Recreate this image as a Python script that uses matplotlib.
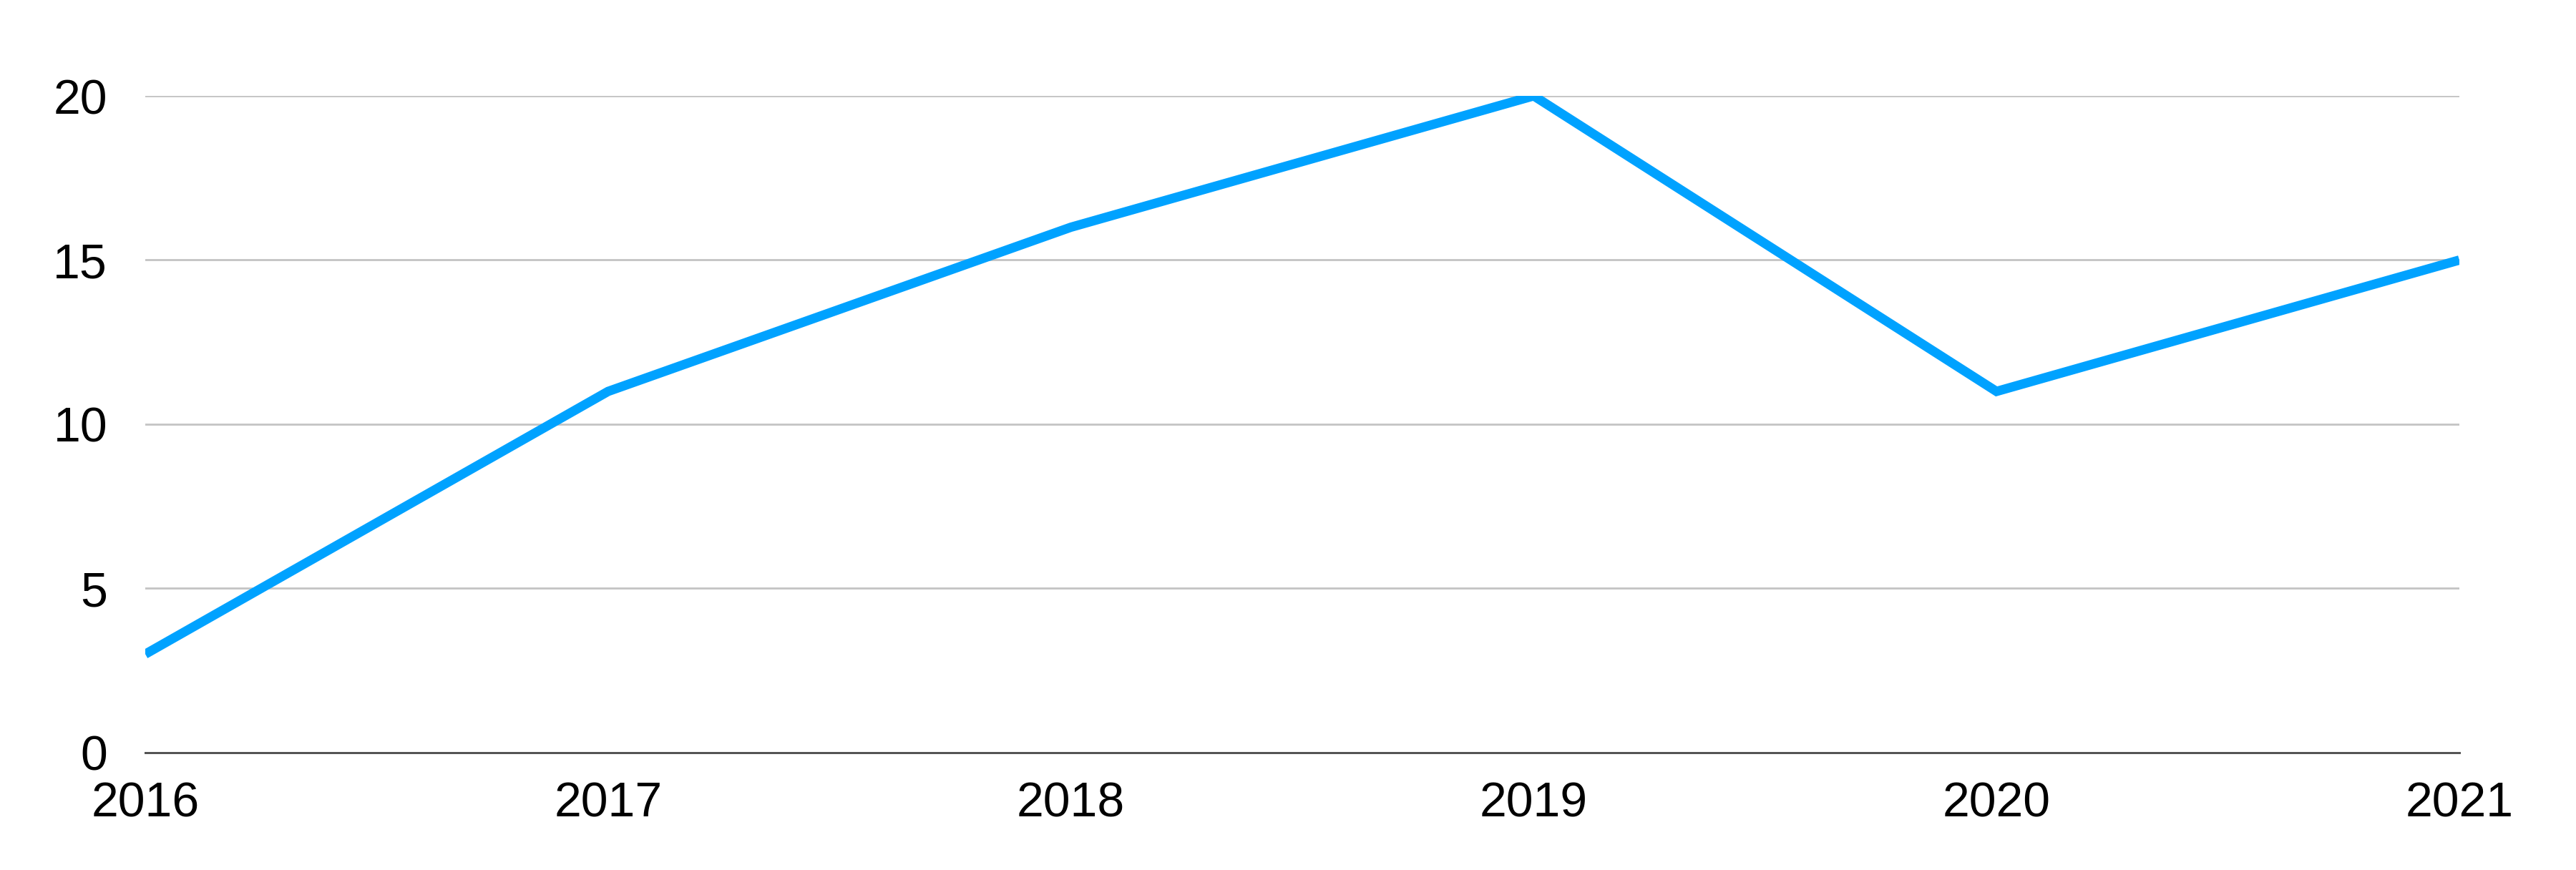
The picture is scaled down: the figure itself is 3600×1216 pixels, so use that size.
import matplotlib
matplotlib.use("Agg")
import matplotlib.pyplot as plt

# dados
anos = [2016, 2017, 2018, 2019, 2020, 2021]
valores = [3, 11, 16, 20, 11, 15]
yticks = [0, 5, 10, 15, 20]

plt.rcParams['font.family'] = ['Liberation Sans', 'DejaVu Sans']

# dpi 72: 1 pt = 1 px
fig = plt.figure(figsize=(3600 / 72, 1216 / 72), dpi=72)
ax = fig.add_axes([0.0564, 0.1349, 0.8983, 0.7549])

ax.plot(anos, valores, color='#00A2FF', linewidth=13,
        solid_capstyle='butt', solid_joinstyle='miter', zorder=3)

ax.set_xlim(anos[0], anos[-1])
ax.set_ylim(0, 20)
ax.set_xticks(anos)
ax.set_yticks(yticks)

ax.grid(axis='y', color='#c4c4c4', linewidth=2.8)
ax.set_axisbelow(True)

for s in ['top', 'right', 'left']:
    ax.spines[s].set_visible(False)
ax.spines['bottom'].set_color('#555555')
ax.spines['bottom'].set_linewidth(3)
ax.spines['bottom'].set_zorder(4)

ax.tick_params(axis='both', length=0, labelsize=68, colors='black')
ax.tick_params(axis='x', pad=40)
ax.tick_params(axis='y', pad=53)

fig.savefig('out.png', dpi=72)
